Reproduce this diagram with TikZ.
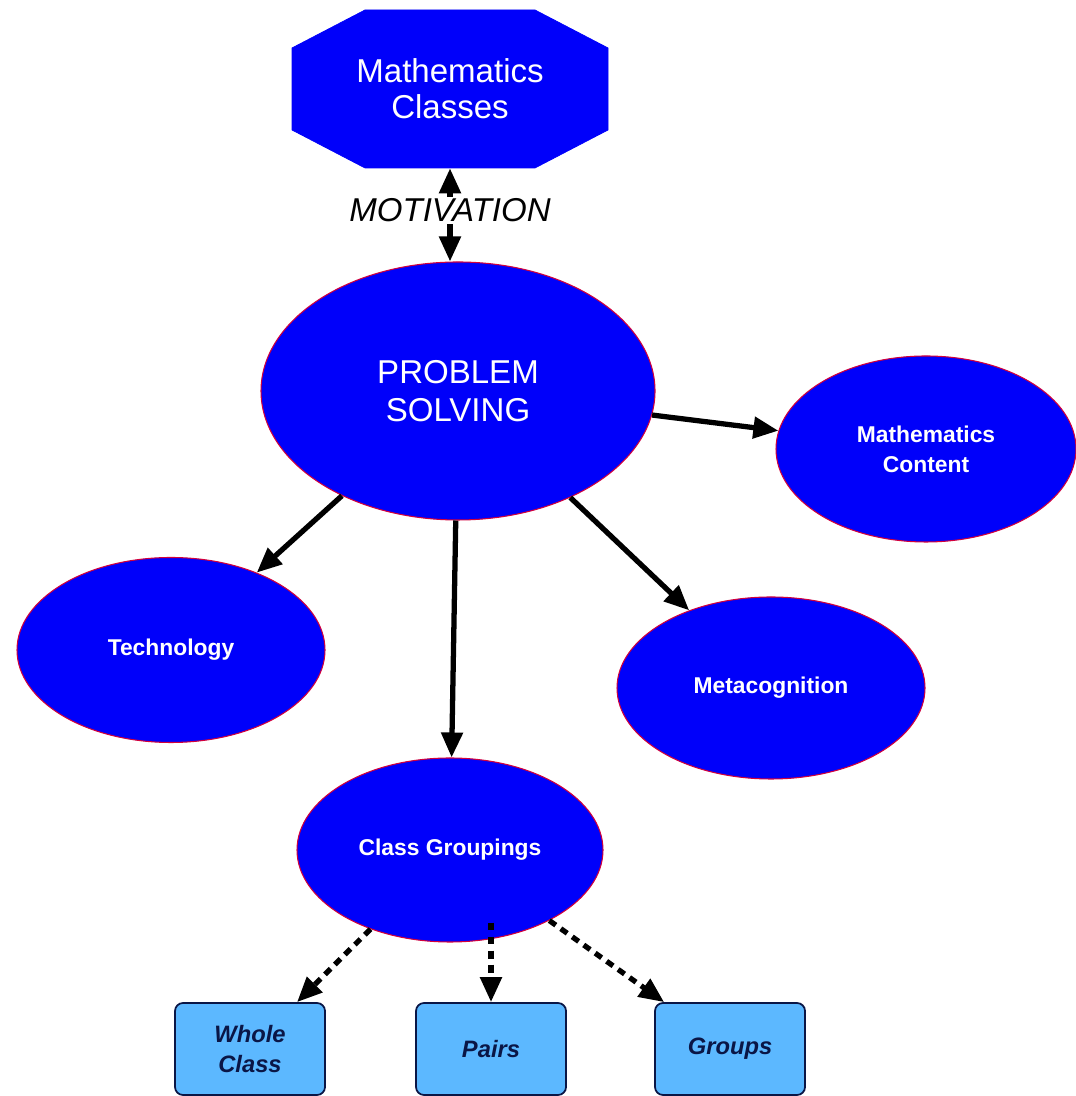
\documentclass[tikz,border=0pt]{standalone}
\usepackage{fontspec}
\setmainfont{Liberation Sans}
\usepackage{xcolor}
\usepackage{tikz}
\usetikzlibrary{arrows.meta,positioning,shapes.geometric}
\definecolor{nodeblue}{RGB}{0,0,250}
\definecolor{rimred}{RGB}{210,0,60}
\definecolor{boxblue}{RGB}{92,184,255}
\definecolor{boxnavy}{RGB}{10,22,70}

\begin{document}
\begin{tikzpicture}[
  bluenode/.style={ellipse,fill=nodeblue,draw=rimred,line width=0.6pt,text=white,align=center,inner sep=0pt,
    font=\fontsize{13}{17}\selectfont\bfseries},
  groupbox/.style={rectangle,rounded corners=0.16cm,fill=boxblue,draw=boxnavy,line width=1pt,text=boxnavy,align=center,
    minimum width=3cm,minimum height=1.84cm,font=\fontsize{13.5}{17}\selectfont\bfseries\itshape},
  linkarrow/.style={-{Triangle[length=0.5cm,width=0.42cm]},line width=3pt},
  dashedarrow/.style={linkarrow,dash pattern=on 4.5pt off 3.5pt}]
\useasboundingbox (0,0) rectangle (21.5,21.92);
\draw[fill=nodeblue,draw=nodeblue] (7.3,21.72) -- (10.7,21.72) -- (12.16,20.96) -- (12.16,19.32) -- (10.7,18.56) -- (7.3,18.56) -- (5.84,19.32) -- (5.84,20.96) -- cycle;
\node[align=center,text=white,minimum width=6.32cm,minimum height=3.16cm,font=\fontsize{18.8}{20.5}\selectfont] (cls) at (9.0,20.14) {Mathematics\\Classes};
\node[bluenode,minimum width=7.88cm,minimum height=5.16cm,font=\fontsize{18.8}{21.6}\selectfont] (ps) at (9.16,14.1) {PROBLEM\\SOLVING};
\node[bluenode,minimum width=6cm,minimum height=3.72cm] (mc) at (18.52,12.94) {Mathematics\\Content};
\node[bluenode,minimum width=6.16cm,minimum height=3.7cm] (tech) at (3.42,8.92) {Technology};
\node[bluenode,minimum width=6.16cm,minimum height=3.64cm] (meta) at (15.42,8.16) {Metacognition};
\node[bluenode,minimum width=6.12cm,minimum height=3.68cm] (cg) at (9.0,4.92) {Class Groupings};
\node[groupbox] (whole) at (5.0,0.94) {Whole\\Class};
\node[groupbox] (pairs) at (9.82,0.94) {Pairs};
\node[groupbox] (groups) at (14.6,0.94) {Groups};
\draw[linkarrow,{Triangle[length=0.5cm,width=0.42cm]}-{Triangle[length=0.5cm,width=0.42cm]}] (cls) -- node[pos=0.45,fill=white,inner sep=1pt,font=\fontsize{18.8}{20}\selectfont\itshape] (motiv) {MOTIVATION} (cls |- ps.north);
\draw[linkarrow] (ps) -- (mc);
\draw[linkarrow] (ps) -- (tech);
\draw[linkarrow] (ps) -- (cg);
\draw[linkarrow] (ps) -- (meta);
\draw[dashedarrow] (cg) -- (whole);
\draw[dashedarrow] ([yshift=0.4cm]pairs |- cg.south) -- (pairs);
\draw[dashedarrow] (cg) -- (groups);
\end{tikzpicture}
\end{document}
